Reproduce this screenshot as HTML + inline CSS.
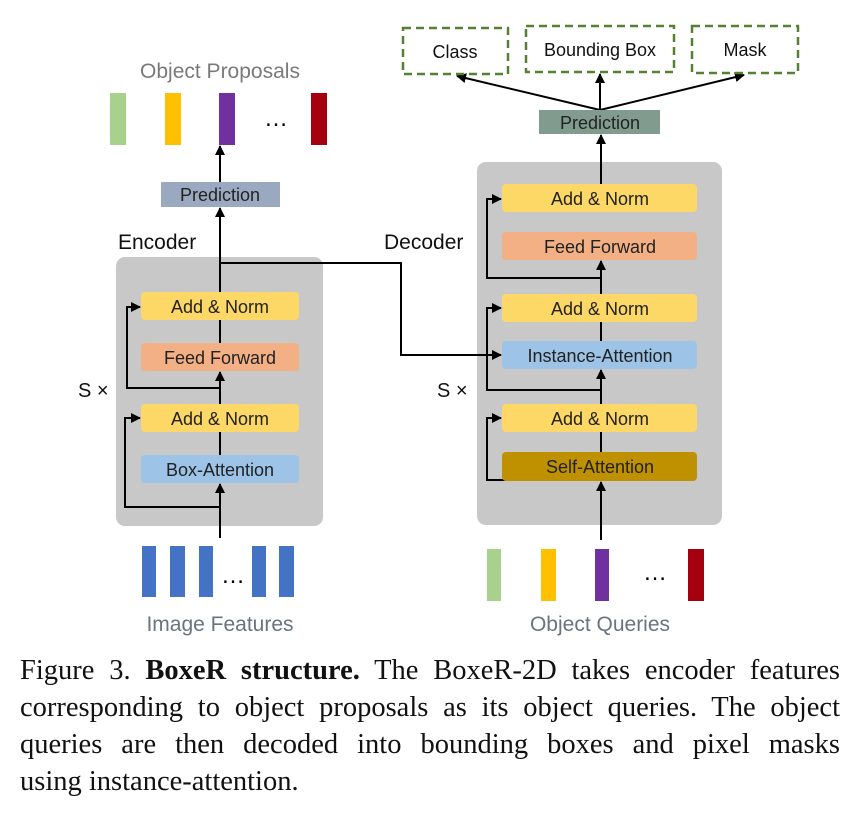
<!DOCTYPE html>
<html><head><meta charset="utf-8"><style>
body{margin:0;background:#fff;width:857px;height:814px;overflow:hidden;position:relative}
svg{position:absolute;left:0;top:0}
svg text{font-family:"Liberation Sans",sans-serif}
.cap{position:absolute;left:20px;top:652px;width:820px;font-family:"Liberation Serif",serif;font-size:28.5px;line-height:37px;color:#111}
.cap div{text-align:justify;text-align-last:justify;white-space:nowrap;height:37px}
.cap div.l{text-align-last:left}
</style></head><body>
<svg width="857" height="814" viewBox="0 0 857 814">
<defs><marker id="a" markerWidth="10" markerHeight="10" refX="9" refY="5" orient="auto" markerUnits="userSpaceOnUse"><path d="M0,0 L10,5 L0,10 z" fill="#000"/></marker></defs>
<rect x="116" y="257" width="207" height="269" rx="9" fill="#c8c8c8"/>
<rect x="477" y="162" width="245" height="363" rx="9" fill="#c8c8c8"/>
<g stroke="#000" stroke-width="2" fill="none">
<line x1="220" y1="538" x2="220" y2="484" marker-end="url(#a)"/>
<line x1="220" y1="455" x2="220" y2="372" marker-end="url(#a)"/>
<line x1="220" y1="343" x2="220" y2="208" marker-end="url(#a)"/>
<line x1="220" y1="182" x2="220" y2="146" marker-end="url(#a)"/>
<polyline points="220,507 125,507 125,418 140,418" marker-end="url(#a)"/>
<polyline points="220,388 127,388 127,307 140,307" marker-end="url(#a)"/>
<polyline points="220,263 401,263 401,355 501,355" marker-end="url(#a)"/>
<line x1="601" y1="540" x2="601" y2="482" marker-end="url(#a)"/>
<line x1="601" y1="452" x2="601" y2="370" marker-end="url(#a)"/>
<line x1="601" y1="341" x2="601" y2="261" marker-end="url(#a)"/>
<line x1="601" y1="184" x2="601" y2="135" marker-end="url(#a)"/>
<polyline points="601,480 487,480 487,418 501,418" marker-end="url(#a)"/>
<polyline points="601,390 487,390 487,308 501,308" marker-end="url(#a)"/>
<polyline points="601,278 487,278 487,199 501,199" marker-end="url(#a)"/>
<line x1="600" y1="110" x2="457" y2="76" marker-end="url(#a)"/>
<line x1="600" y1="110" x2="600" y2="74" marker-end="url(#a)"/>
<line x1="600" y1="110" x2="744" y2="75" marker-end="url(#a)"/>
</g>
<rect x="141" y="292" width="158" height="28" rx="4" fill="#fdd866"/>
<rect x="141" y="343" width="158" height="28" rx="4" fill="#f3b084"/>
<rect x="141" y="404" width="158" height="28" rx="4" fill="#fdd866"/>
<rect x="141" y="455" width="158" height="28" rx="4" fill="#9dc3e6"/>
<g font-size="18" fill="#222" text-anchor="middle">
<text x="220" y="313">Add &amp; Norm</text><text x="220" y="364">Feed Forward</text>
<text x="220" y="425">Add &amp; Norm</text><text x="220" y="476">Box-Attention</text></g>
<rect x="161" y="182" width="119" height="25" fill="#9aa9bf"/>
<text x="220" y="201" font-size="18" fill="#222" text-anchor="middle">Prediction</text>
<text x="118" y="249" font-size="21" fill="#111">Encoder</text>
<text x="78" y="397" font-size="20" fill="#111">S ×</text>
<text x="220" y="78" font-size="21" fill="#7a7a7a" text-anchor="middle">Object Proposals</text>
<rect x="110" y="93" width="16" height="52" fill="#a9d18e"/>
<rect x="165" y="93" width="16" height="52" fill="#ffc000"/>
<rect x="219" y="93" width="16" height="52" fill="#7030a0"/>
<text x="276" y="126" font-size="24" fill="#000" text-anchor="middle">…</text>
<rect x="311" y="93" width="16" height="52" fill="#a50010"/>
<rect x="502" y="184" width="195" height="28" rx="4" fill="#fdd866"/>
<rect x="502" y="232" width="195" height="28" rx="4" fill="#f3b084"/>
<rect x="502" y="294" width="195" height="28" rx="4" fill="#fdd866"/>
<rect x="502" y="341" width="195" height="28" rx="4" fill="#9dc3e6"/>
<rect x="502" y="404" width="195" height="28" rx="4" fill="#fdd866"/>
<rect x="502" y="452" width="195" height="29" rx="4" fill="#bf9000"/>
<g font-size="18" fill="#222" text-anchor="middle">
<text x="600" y="205">Add &amp; Norm</text><text x="600" y="253">Feed Forward</text>
<text x="600" y="315">Add &amp; Norm</text><text x="600" y="362">Instance-Attention</text>
<text x="600" y="425">Add &amp; Norm</text><text x="600" y="473">Self-Attention</text></g>
<rect x="539" y="110" width="121" height="24" fill="#819c8f"/>
<text x="600" y="129" font-size="18" fill="#222" text-anchor="middle">Prediction</text>
<text x="384" y="249" font-size="21" fill="#111">Decoder</text>
<text x="437" y="397" font-size="20" fill="#111">S ×</text>
<g fill="none" stroke="#548235" stroke-width="2.5" stroke-dasharray="8,5">
<rect x="403" y="28" width="105" height="46"/><rect x="526" y="26" width="148" height="46"/><rect x="692" y="26" width="106" height="47"/></g>
<g font-size="18" fill="#111" text-anchor="middle">
<text x="455" y="58">Class</text><text x="600" y="56">Bounding Box</text><text x="745" y="56">Mask</text></g>
<g fill="#4472c4"><rect x="142" y="546" width="14" height="51"/><rect x="170" y="546" width="15" height="51"/><rect x="199" y="546" width="14" height="51"/><rect x="252" y="546" width="14" height="51"/><rect x="279" y="546" width="15" height="51"/></g>
<text x="233" y="583" font-size="24" fill="#000" text-anchor="middle">…</text>
<rect x="487" y="549" width="14" height="52" fill="#a9d18e"/>
<rect x="541" y="549" width="15" height="52" fill="#ffc000"/>
<rect x="595" y="549" width="14" height="52" fill="#7030a0"/>
<text x="655" y="580" font-size="24" fill="#000" text-anchor="middle">…</text>
<rect x="688" y="549" width="16" height="52" fill="#a50010"/>
<text x="220" y="631" font-size="21" fill="#6b7380" text-anchor="middle">Image Features</text>
<text x="600" y="631" font-size="21" fill="#6b7380" text-anchor="middle">Object Queries</text>
</svg>
<div class="cap">
<div>Figure 3. <b>BoxeR structure.</b> The BoxeR-2D takes encoder features</div>
<div>corresponding to object proposals as its object queries. The object</div>
<div>queries are then decoded into bounding boxes and pixel masks</div>
<div class="l">using instance-attention.</div>
</div>
</body></html>
